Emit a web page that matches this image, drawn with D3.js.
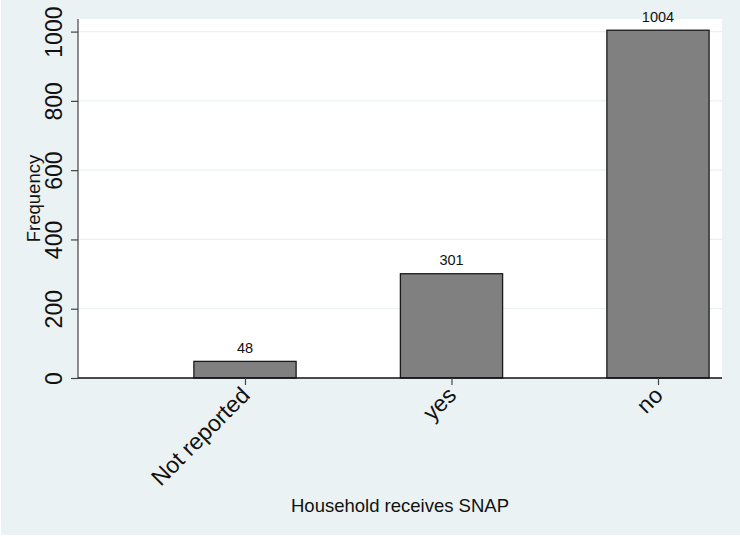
<!DOCTYPE html>
<html><head><meta charset="utf-8">
<script src="https://cdn.jsdelivr.net/npm/d3@7"></script>
<style>body{margin:0;background:#fff}svg{display:block}text{font-family:"Liberation Sans",Arial,Helvetica,sans-serif;fill:#111}</style>
</head><body>
<script>
const categories = ["Not reported", "yes", "no"];
const frequencies = [48, 301, 1004];
const yTicks = [0, 200, 400, 600, 800, 1000];
const xTitle = "Household receives SNAP";
const yTitle = "Frequency";

const W = 740, H = 537;
const pL = 78, pR = 722, pT = 19, pB = 378;
const svg = d3.select("body").append("svg").attr("width", W).attr("height", H);
svg.append("rect").attr("x", 1).attr("y", 0).attr("width", W - 1).attr("height", H - 2).attr("fill", "#eaf2f3");
svg.append("rect").attr("x", pL).attr("y", pT).attr("width", pR - pL).attr("height", pB - pT).attr("fill", "#fff");

const x = d3.scaleLinear().domain([-0.8087, 2.31]).range([pL, pR]);
const y = d3.scaleLinear().domain([0, 1000]).range([pB, 31.6]);
const bw = 0.495;

// grid
svg.append("g").selectAll("line").data(yTicks.filter(d => d > 0)).join("line")
  .attr("x1", pL).attr("x2", pR).attr("y1", d => y(d)).attr("y2", d => y(d))
  .attr("stroke", "#eaf2f3").attr("stroke-width", 1.2);

// bars
svg.append("g").selectAll("rect").data(frequencies).join("rect")
  .attr("x", (d, i) => x(i - bw / 2)).attr("width", (d, i) => x(i + bw / 2) - x(i - bw / 2))
  .attr("y", d => y(d)).attr("height", d => y(0) - y(d))
  .attr("fill", "#808080").attr("stroke", "#1a1a1a").attr("stroke-width", 1.3);

// value labels
svg.append("g").selectAll("text").data(frequencies).join("text")
  .attr("x", (d, i) => x(i)).attr("y", d => y(d) - 8.5)
  .attr("text-anchor", "middle").attr("font-size", 14.5).text(d => d);

// y axis
const yAxis = svg.append("g").attr("transform", `translate(${pL},0)`)
  .call(d3.axisLeft(y).tickValues(yTicks).tickSize(7).tickPadding(0).tickFormat(d3.format("d")));
yAxis.select(".domain").attr("d", `M0,${pT}V${pB}`).attr("stroke", "#444").attr("stroke-width", 1.2);
yAxis.selectAll(".tick line").attr("stroke", "#444").attr("stroke-width", 1.2);
yAxis.selectAll(".tick text").attr("font-size", 23).attr("fill", "#111")
  .attr("text-anchor", "middle").attr("x", null).attr("dy", null)
  .attr("transform", "translate(-16,0) rotate(-90)");

// x axis
const xAxis = svg.append("g").attr("transform", `translate(0,${pB})`)
  .call(d3.axisBottom(x).tickValues(d3.range(categories.length)).tickSize(7).tickFormat(i => categories[i]));
xAxis.select(".domain").attr("d", `M${pL},0H${pR}`).attr("stroke", "#111").attr("stroke-width", 1.3);
xAxis.selectAll(".tick line").attr("stroke", "#444").attr("stroke-width", 1.2);
xAxis.selectAll(".tick text").attr("font-size", 23).attr("fill", "#111")
  .attr("text-anchor", "end").attr("y", null).attr("dy", "0.72em")
  .attr("transform", "translate(-6,7) rotate(-45)");

// titles
svg.append("text").attr("x", (pL + pR) / 2).attr("y", 511.5).attr("text-anchor", "middle")
  .attr("font-size", 18.5).text(xTitle);
svg.append("text").attr("transform", `translate(39.5,${(pT + pB) / 2}) rotate(-90)`)
  .attr("text-anchor", "middle").attr("font-size", 18.5).text(yTitle);
</script>
</body></html>
